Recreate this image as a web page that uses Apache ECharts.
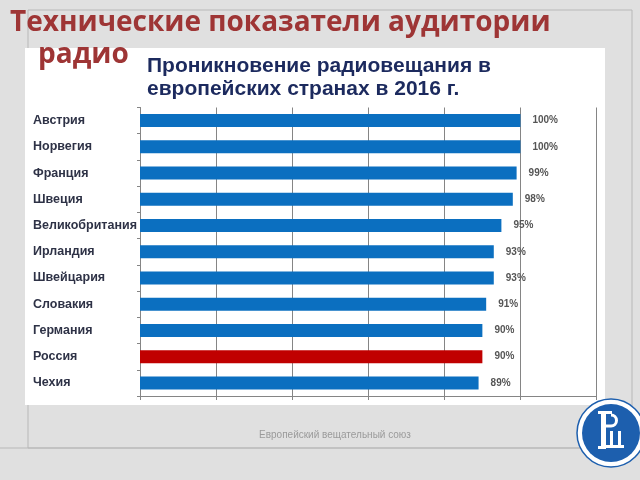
<!DOCTYPE html>
<html>
<head>
<meta charset="utf-8">
<script src="https://cdn.jsdelivr.net/npm/echarts@6/dist/echarts.min.js"></script>
<style>html,body{margin:0;padding:0;background:#e0e0e0;}#chart{width:640px;height:480px;}</style>
</head>
<body>
<div id="chart"></div>
<script>
const categories = ['Австрия','Норвегия','Франция','Швеция','Великобритания','Ирландия','Швейцария','Словакия','Германия','Россия','Чехия'];
const values = [100,100,99,98,95,93,93,91,90,90,89];
const highlightCategory = 'Россия';
const xTicks = [0,20,40,60,80,100,120];
const mainTitle1 = 'Технические показатели аудитории';
const mainTitle2 = 'радио';
const chartTitle = 'Проникновение радиовещания в\nевропейских странах в 2016 г.';
const footer = 'Европейский вещательный союз';

const chart = echarts.init(document.getElementById('chart'), null, {renderer:'canvas'});
const seriesData = values.map((v,i) => ({
  value: v,
  itemStyle: { color: categories[i] === highlightCategory ? '#c00000' : '#0b6fc0' }
}));

chart.setOption({
  backgroundColor: '#e0e0e0',
  animation: false,
  title: [
    { text: mainTitle1, left: 5, top: 4, z: 10,
      textStyle: { fontFamily: 'Open Sans', fontWeight: 'bold', fontSize: 28, color: '#9e3535' } },
    { text: mainTitle2, left: 33, top: 36, z: 10,
      textStyle: { fontFamily: 'Open Sans', fontWeight: 'bold', fontSize: 28, color: '#9e3535' } },
    { text: chartTitle, left: 142, top: 50, z: 10,
      textStyle: { fontFamily: 'Liberation Sans', fontWeight: 'bold', fontSize: 21, lineHeight: 23, color: '#1c2a5e' } }
  ],
  graphic: [
    { type: 'rect', z: -10, shape: { x: 28, y: 10, width: 604, height: 438 },
      style: { fill: 'none', stroke: '#b8b8b8', lineWidth: 1 } },
    { type: 'line', z: -10, shape: { x1: 0, y1: 448, x2: 632, y2: 448 },
      style: { stroke: '#b8b8b8', lineWidth: 1 } },
    { type: 'rect', z: -5, shape: { x: 25, y: 48, width: 580, height: 357 },
      style: { fill: '#ffffff' } },
    { type: 'text', z: 1, x: 335, y: 435,
      style: { text: footer, fontFamily: 'Liberation Sans', fontSize: 10, fill: '#9a9a9a', textAlign: 'center', textVerticalAlign: 'middle' } },
    { type: 'circle', z: 20, shape: { cx: 611, cy: 433, r: 34 },
      style: { fill: '#ffffff', stroke: '#1d5fae', lineWidth: 1.5 } },
    { type: 'circle', z: 21, shape: { cx: 611, cy: 433, r: 29 },
      style: { fill: '#1d5fae' } },
    { type: 'group', z: 22, x: 598, y: 411, children: [
      { type: 'rect', z: 22, shape: { x: 3, y: 0, width: 5, height: 38 }, style: { fill: '#fff' } },
      { type: 'rect', z: 22, shape: { x: 0, y: 0, width: 14, height: 3 }, style: { fill: '#fff' } },
      { type: 'arc', z: 22, shape: { cx: 13, cy: 9.5, r: 5.5, startAngle: -Math.PI/2, endAngle: Math.PI/2, clockwise: true },
        style: { stroke: '#fff', lineWidth: 3, fill: 'none' } },
      { type: 'rect', z: 22, shape: { x: 8, y: 13.5, width: 5, height: 3 }, style: { fill: '#fff' } },
      { type: 'rect', z: 22, shape: { x: 12, y: 20, width: 3, height: 16 }, style: { fill: '#fff' } },
      { type: 'rect', z: 22, shape: { x: 20, y: 20, width: 3, height: 16 }, style: { fill: '#fff' } },
      { type: 'rect', z: 22, shape: { x: 8, y: 34, width: 18, height: 3 }, style: { fill: '#fff' } },
      { type: 'rect', z: 22, shape: { x: 0, y: 35, width: 8, height: 3 }, style: { fill: '#fff' } }
    ]}
  ],
  grid: { left: 140, right: 43.5, top: 107.5, bottom: 84, containLabel: false },
  xAxis: {
    type: 'value', min: xTicks[0], max: xTicks[xTicks.length-1], interval: 20,
    axisLine: { show: true, lineStyle: { color: '#858585', width: 1 } },
    axisTick: { show: true, length: 4, lineStyle: { color: '#858585' } },
    axisLabel: { show: false },
    splitLine: { show: true, lineStyle: { color: '#858585', width: 1 } }
  },
  yAxis: {
    type: 'category', data: categories, inverse: true,
    axisLine: { show: true, lineStyle: { color: '#858585', width: 1 } },
    axisTick: { show: true, length: 3, alignWithLabel: false, lineStyle: { color: '#858585' } },
    axisLabel: { align: 'left', margin: 107, fontFamily: 'Liberation Sans', fontWeight: 'bold', fontSize: 12.5, color: '#2e3246' }
  },
  series: [{
    type: 'bar', data: seriesData, barWidth: 13,
    label: { show: true, position: 'right', distance: 12, formatter: '{c}%',
      fontFamily: 'Liberation Sans', fontWeight: 'bold', fontSize: 10, color: '#555555' }
  }]
});
</script>
</body>
</html>
